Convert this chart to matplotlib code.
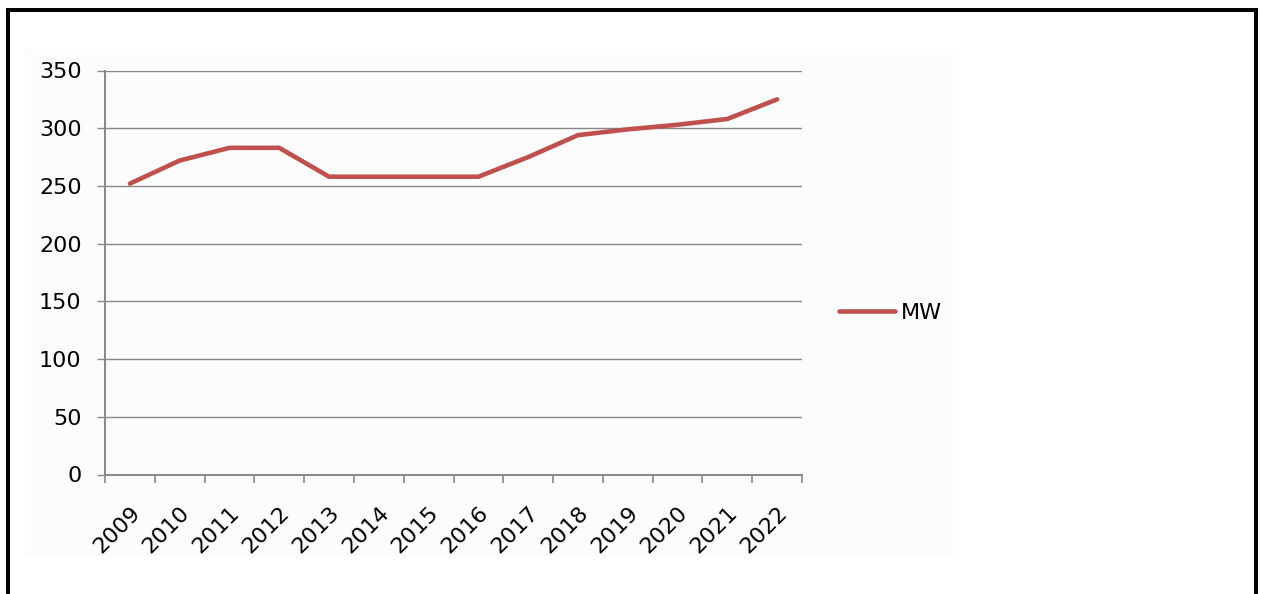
import matplotlib
matplotlib.use("Agg")
import matplotlib.pyplot as plt
from matplotlib.patches import Rectangle
from matplotlib.lines import Line2D
from matplotlib.transforms import ScaledTranslation

years = ["2009", "2010", "2011", "2012", "2013", "2014", "2015",
         "2016", "2017", "2018", "2019", "2020", "2021", "2022"]
mw = [252, 272, 283, 283, 258, 258, 258, 258, 275, 294, 299, 303, 308, 325]
yticks = [0, 50, 100, 150, 200, 250, 300, 350]

W, H = 1261, 594
fig = plt.figure(figsize=(W / 100, H / 100), dpi=100)
fig.patch.set_facecolor("white")

# faint chart-area background
fig.add_artist(Rectangle((25 / W, 1 - 557 / H), (953 - 25) / W, (557 - 49) / H,
                         transform=fig.transFigure, facecolor="#fcfcfc",
                         edgecolor="none", zorder=0))

# black frame (bottom edge is cut off)
frame_kw = dict(transform=fig.transFigure, color="black", lw=2.9,
                solid_capstyle="projecting", zorder=5)
fig.add_artist(Line2D([8 / W, 8 / W], [0, 1 - 10 / H], **frame_kw))
fig.add_artist(Line2D([8 / W, 1256 / W], [1 - 10 / H, 1 - 10 / H], **frame_kw))
fig.add_artist(Line2D([1256 / W, 1256 / W], [0, 1 - 10 / H], **frame_kw))

ax = fig.add_axes([105 / W, 1 - 474.5 / H, 697 / W, (474.5 - 70.5) / H])
ax.set_facecolor("none")

x = list(range(len(years)))
line, = ax.plot(x, mw, color="#c0504d", lw=3.3, solid_capstyle="round",
                solid_joinstyle="round", label="MW", zorder=3)

ax.set_xlim(-0.5, len(years) - 0.5)
ax.set_ylim(0, 350)
ax.set_yticks(yticks)
ax.set_yticklabels([str(v) for v in yticks])
ax.yaxis.grid(True, color="#878787", lw=1.0)
ax.set_axisbelow(True)

ax.set_xticks(x)
ax.set_xticklabels(years, rotation=45, ha="right", va="top",
                   rotation_mode="anchor")
shift = ScaledTranslation(-4 / 100, 0, fig.dpi_scale_trans)
for lbl in ax.get_xticklabels():
    lbl.set_transform(lbl.get_transform() + shift)
ax.set_xticks([i - 0.5 for i in range(len(years) + 1)], minor=True)
ax.tick_params(axis="x", which="major", length=0, pad=20, labelsize=16)
ax.tick_params(axis="x", which="minor", length=5.8, width=1.2, color="#878787")
ax.tick_params(axis="y", length=5.8, width=1.0, color="#878787", pad=11,
               labelsize=16)

for s in ["top", "right"]:
    ax.spines[s].set_visible(False)
for s in ["left", "bottom"]:
    ax.spines[s].set_color("#878787")
    ax.spines[s].set_linewidth(1.4)

fig.legend(handles=[line], labels=["MW"], loc="center left",
           bbox_to_anchor=(839 / W, 1 - 313 / H), frameon=False,
           borderaxespad=0, borderpad=0, handlelength=2.5,
           handletextpad=0.3, fontsize=16)

fig.savefig("out.png", dpi=100)
